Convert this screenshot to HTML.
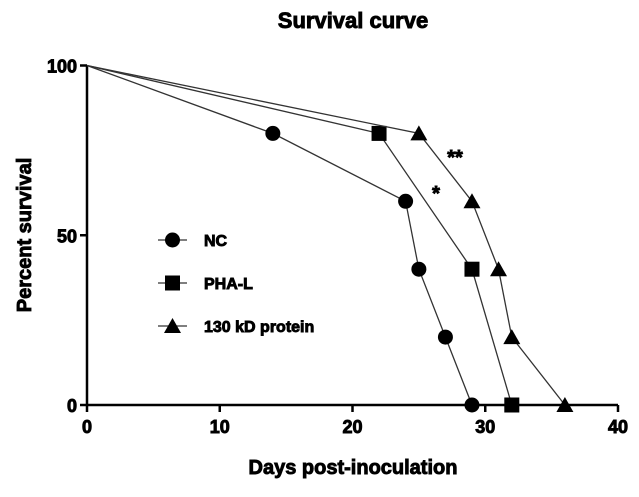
<!DOCTYPE html>
<html><head><meta charset="utf-8"><style>
body{margin:0;background:#fff;}
svg text{font-family:"Liberation Sans",sans-serif;font-weight:bold;fill:#000;stroke:#000;stroke-width:0.9;}
</style></head><body>
<svg width="639" height="492" viewBox="0 0 639 492">
<text x="353" y="28" font-size="22" text-anchor="middle">Survival curve</text>
<text x="353" y="474" font-size="20" text-anchor="middle">Days post-inoculation</text>
<text transform="translate(31,235) rotate(-90)" font-size="20" text-anchor="middle">Percent survival</text>
<g id="axes"></g>
<g id="series"></g>
<g id="legend"></g>
<text x="455" y="164" font-size="20" text-anchor="middle">**</text>
<text x="436" y="200" font-size="20" text-anchor="middle">*</text>
</svg>
<script>
const xTicks=[0,10,20,30,40];
const yTicks=[0,50,100];
const seriesNames=["NC","PHA-L","130 kD protein"];
const ncDays=[0,14,24,25,27,29];
const ncSurv=[100,80,60,40,20,0];
const phaDays=[0,22,29,32];
const phaSurv=[100,80,40,0];
const protDays=[0,25,29,31,32,36];
const protSurv=[100,80,60,40,20,0];
const markers=["circle","square","triangle"];

const NS="http://www.w3.org/2000/svg";
const X=d=>87+d*(618-87)/40;
const Y=v=>405-v*(405-65.5)/100;
function mk(tag,attrs,parent){const e=document.createElementNS(NS,tag);for(const k in attrs)e.setAttribute(k,attrs[k]);parent.appendChild(e);return e;}
const axes=document.getElementById('axes');
let e=mk('line',{x1:87,y1:Y(100),x2:87,y2:405,stroke:'#000','stroke-width':2.5},axes);


e=mk('line',{x1:87,y1:405,x2:X(40),y2:405,stroke:'#000','stroke-width':2.5},axes);


xTicks.forEach(t=>{
 mk('line',{x1:X(t),y1:405,x2:X(t),y2:412,stroke:'#000','stroke-width':2.5},axes);
 const tx=mk('text',{x:X(t),y:433,'font-size':18,'text-anchor':'middle'},axes);tx.textContent=t;
 
 
});
yTicks.forEach(t=>{
 mk('line',{x1:80,y1:Y(t),x2:87,y2:Y(t),stroke:'#000','stroke-width':2.5},axes);
 const tx=mk('text',{x:77,y:Y(t)+7,'font-size':18,'text-anchor':'end'},axes);tx.textContent=t;
 
 
});
function marker(type,x,y,p,s){
 if(type==='circle')return mk('circle',{cx:x,cy:y,r:7.5,fill:'#000'},p);
 if(type==='square')return mk('rect',{x:x-7.5,y:y-7.5,width:15,height:15,fill:'#000'},p);
 return mk('polygon',{points:`${x},${y-8} ${x-8.5},${y+7} ${x+8.5},${y+7}`,fill:'#000'},p);
}
const ser=document.getElementById('series');
const allDays=[ncDays,phaDays,protDays],allSurv=[ncSurv,phaSurv,protSurv];
allDays.forEach((ds,i)=>{
 const g=mk('g',{},ser);
 
 
 const pl=mk('polyline',{points:ds.map((d,j)=>X(d)+','+Y(allSurv[i][j])).join(' '),fill:'none',stroke:'#333','stroke-width':1.3},g);
 
 
 ds.forEach((d,j)=>{if(j===0)return;const m=marker(markers[i],X(d),Y(allSurv[i][j]),g);
  
  });
});
const leg=document.getElementById('legend');
seriesNames.forEach((n,i)=>{
 const y=240+i*43;
 const g=mk('g',{},leg);
 
 
 mk('line',{x1:158,y1:y,x2:187,y2:y,stroke:'#333','stroke-width':1.3},g);
 marker(markers[i],172.5,y,g);
 const t=mk('text',{x:204,y:y+6,'font-size':16},g);t.textContent=n;
});
</script>
</body></html>
